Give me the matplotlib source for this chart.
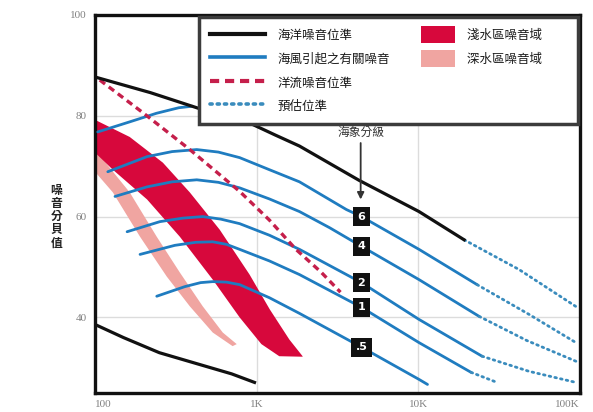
import matplotlib
matplotlib.use('Agg')
import matplotlib.pyplot as plt
from matplotlib.lines import Line2D
import matplotlib.patches as mpatches
from matplotlib.legend_handler import HandlerPatch

CJK = ['Noto Sans CJK TC', 'DejaVu Sans']
plt.rcParams['font.family'] = CJK

# ---------------- data (frequency in Hz, level in dB) ----------------
ocean_f = [100, 220, 445, 820, 1300, 1840, 4300, 10100, 19200]
ocean_db = [87.7, 84.6, 81.4, 79.2, 76.2, 74.0, 67.2, 61.0, 55.4]
ocean_est_f = [19200, 42000, 94000]
ocean_est_db = [55.4, 49.5, 42.2]

low_f = [100, 150, 250, 450, 700, 970]
low_db = [38.6, 36.0, 33.0, 30.6, 28.8, 27.1]

current_f = [107, 200, 386, 785, 1200, 1750, 2500, 3300]
current_db = [87.1, 80.5, 73.3, 65.0, 59.3, 53.5, 49.0, 45.0]

shallow_up_f = [100, 164, 263, 386, 591, 904, 1205, 1594, 1924]
shallow_up_db = [79.2, 75.8, 70.7, 64.8, 57.4, 48.5, 41.6, 35.6, 32.3]
shallow_lo_f = [100, 129, 210, 335, 535, 785, 1070, 1380, 1924]
shallow_lo_db = [72.7, 69.3, 63.4, 56.0, 47.5, 40.0, 34.7, 32.3, 32.2]

deep_up_f = [100, 164, 241, 335, 464, 617, 753]
deep_up_db = [73.3, 64.8, 56.0, 48.9, 42.2, 37.0, 34.7]
deep_lo_f = [100, 129, 190, 278, 386, 535, 710]
deep_lo_db = [68.9, 64.8, 56.0, 48.1, 42.2, 37.0, 34.3]

wind_top_f = [104, 164, 240, 330, 400]
wind_top_db = [76.8, 78.8, 80.5, 81.6, 81.9]

wind_f = [
    [120, 210, 300, 426, 580, 785, 1200, 1840, 3590, 4450, 10100, 23100],
    [133, 210, 300, 426, 580, 785, 1200, 1840, 2825, 4450, 10100, 23800],
    [158, 252, 350, 464, 600, 785, 1200, 1840, 4450, 10100, 24800],
    [190, 312, 420, 535, 650, 785, 1200, 1840, 4450, 10100, 21200],
    [241, 359, 450, 535, 650, 785, 1200, 1840, 4450, 10100, 11400],
]
wind_db = [
    [68.9, 71.9, 72.9, 73.3, 72.8, 71.7, 69.3, 66.9, 61.4, 60.0, 53.5, 46.5],
    [64.0, 65.9, 66.9, 67.3, 66.8, 65.7, 63.5, 61.0, 57.8, 54.1, 47.5, 40.2],
    [57.0, 59.0, 59.7, 60.0, 59.5, 58.6, 56.3, 53.5, 46.9, 39.6, 32.3],
    [52.5, 54.3, 54.9, 55.0, 54.5, 53.5, 51.2, 48.5, 42.0, 35.0, 29.1],
    [44.2, 46.1, 46.9, 47.1, 47.0, 46.5, 43.9, 40.8, 34.1, 27.7, 26.7],
]
wind_est_f = [
    [23100, 48400, 94400],
    [23800, 47000, 94400],
    [24800, 48400, 94400],
    [21200, 30700],
]
wind_est_db = [
    [46.5, 40.6, 35.0],
    [40.2, 35.4, 31.3],
    [32.3, 29.3, 27.1],
    [29.1, 27.1],
]

sea_states = ['6', '4', '2', '1', '.5']
sea_state_f = 4450
sea_state_db = [60.0, 54.1, 46.9, 42.0, 34.1]

x_ticks = [100, 1000, 10000, 100000]
x_ticklabels = ['100', '1K', '10K', '100K']
y_ticks = [40, 60, 80, 100]
y_ticklabels = ['40', '60', '80', '100']

legend_labels = ['海洋噪音位準', '海風引起之有關噪音', '洋流噪音位準', '預估位準',
                 '淺水區噪音域', '深水區噪音域']
y_title = '噪音分貝值'
arrow_title = '海象分級'

# ---------------- styles ----------------
BLACK = '#111111'
BLUE = '#1f7cc0'
DOT = '#3a8cbd'
RED_DASH = '#c51f4b'
RED = '#d7083c'
PINK = '#f0a5a1'

fig = plt.figure(figsize=(5.93, 4.12), dpi=100)
ax = fig.add_axes([0.1602, 0.0461, 0.8178, 0.9175])
ax.set_xscale('log')
ax.set_xlim(100, 100000)
ax.set_ylim(25, 100)

# grid
for yv in [40, 60, 80]:
    ax.axhline(yv, color='#dcdcdc', lw=1.0, zorder=0)
for xv in [1000, 10000]:
    ax.axvline(xv, color='#dcdcdc', lw=1.0, zorder=0)

# bands
ax.fill(deep_up_f + deep_lo_f[::-1], deep_up_db + deep_lo_db[::-1],
        color=PINK, lw=0, zorder=1)
ax.fill(shallow_up_f + shallow_lo_f[::-1], shallow_up_db + shallow_lo_db[::-1],
        color=RED, lw=0, zorder=2)

dot_style = (0, (0.6, 1.5))
# wind curves
ax.plot(wind_top_f, wind_top_db, color=BLUE, lw=2.0, zorder=3,
        solid_capstyle='round', solid_joinstyle='round')
for f, d in zip(wind_f, wind_db):
    ax.plot(f, d, color=BLUE, lw=2.0, zorder=3, solid_capstyle='round',
            solid_joinstyle='round')
for f, d in zip(wind_est_f, wind_est_db):
    ax.plot(f, d, color=DOT, lw=2.0, ls=dot_style, zorder=3, dash_capstyle='round')

# current noise
ax.plot(current_f, current_db, color=RED_DASH, lw=2.4, ls=(0, (2.0, 1.4)), zorder=3)

# ocean noise limits
ax.plot(ocean_f, ocean_db, color=BLACK, lw=2.3, zorder=4, solid_joinstyle='round')
ax.plot(ocean_est_f, ocean_est_db, color=DOT, lw=2.0, ls=dot_style, zorder=3,
        dash_capstyle='round')
ax.plot(low_f, low_db, color=BLACK, lw=2.3, zorder=4, solid_joinstyle='round')

# sea state labels
for s, d in zip(sea_states, sea_state_db):
    ax.text(sea_state_f, d, s, ha='center', va='center', color='white',
            fontsize=8, fontweight='bold', family=['DejaVu Sans'], zorder=6,
            bbox=dict(boxstyle='square,pad=0.4', fc='#111111', ec='none'))

ax.annotate('', xy=(4400, 63.4), xytext=(4400, 74.6),
            arrowprops=dict(arrowstyle='-|>', color='#333333', lw=1.3,
                            mutation_scale=10, shrinkA=0, shrinkB=0), zorder=6)
ax.text(4400, 76.8, arrow_title, ha='center', va='center', fontsize=8.5,
        color='#333333', zorder=6)

# axes styling
for sp in ax.spines.values():
    sp.set_linewidth(2.4)
    sp.set_color('#111111')
ax.set_xticks(x_ticks)
ax.set_xticklabels(x_ticklabels)
ax.set_yticks(y_ticks)
ax.set_yticklabels(y_ticklabels)
ax.minorticks_off()
ax.tick_params(axis='both', length=0, labelsize=8, labelcolor='#808080')
ax.tick_params(axis='x', pad=5)
ax.tick_params(axis='y', pad=6)
for lab in ax.get_xticklabels() + ax.get_yticklabels():
    lab.set_family(['Liberation Serif'])
xl = ax.get_xticklabels()
xl[0].set_horizontalalignment('left')
xl[-1].set_horizontalalignment('right')

ax.text(-0.080, 0.466, '\n'.join(y_title), transform=ax.transAxes,
        ha='center', va='center', fontsize=8.5, fontweight='bold',
        linespacing=1.0, color='#222222')

# legend
def narrow_patch(legend, orig_handle, xdescent, ydescent, width, height, fontsize):
    w = width * 0.62
    return mpatches.Rectangle((-xdescent + width - w, -ydescent - height * 0.1),
                              w, height * 1.2)

handles = [
    Line2D([], [], color=BLACK, lw=3.0),
    Line2D([], [], color=BLUE, lw=2.6),
    Line2D([], [], color=RED_DASH, lw=3.0, ls=(0, (2.2, 1.4))),
    Line2D([], [], color=DOT, lw=2.6, ls=(0, (0.6, 1.4)), dash_capstyle='round'),
    mpatches.Patch(color=RED, lw=0),
    mpatches.Patch(color=PINK, lw=0),
    Line2D([], [], ls='none'),
    Line2D([], [], ls='none'),
]
labels = legend_labels[:4] + [legend_labels[4] + '\u3000\u3000',
                              legend_labels[5] + '\u3000\u3000', '', '']
leg = ax.legend(handles, labels, loc='upper left', bbox_to_anchor=(0.2145, 0.994),
                borderaxespad=0, ncol=2, fontsize=9, handlelength=4.4,
                handletextpad=1.0, columnspacing=0.8, borderpad=0.85,
                labelspacing=0.75, handleheight=1.36, frameon=True, fancybox=False,
                framealpha=1.0,
                handler_map={mpatches.Patch: HandlerPatch(patch_func=narrow_patch)})
leg.get_frame().set_edgecolor('#3c3c3c')
leg.get_frame().set_linewidth(2.5)
for t in leg.get_texts():
    t.set_color('#1a1a1a')
leg.set_zorder(20)

fig.savefig('out.png', dpi=100)
